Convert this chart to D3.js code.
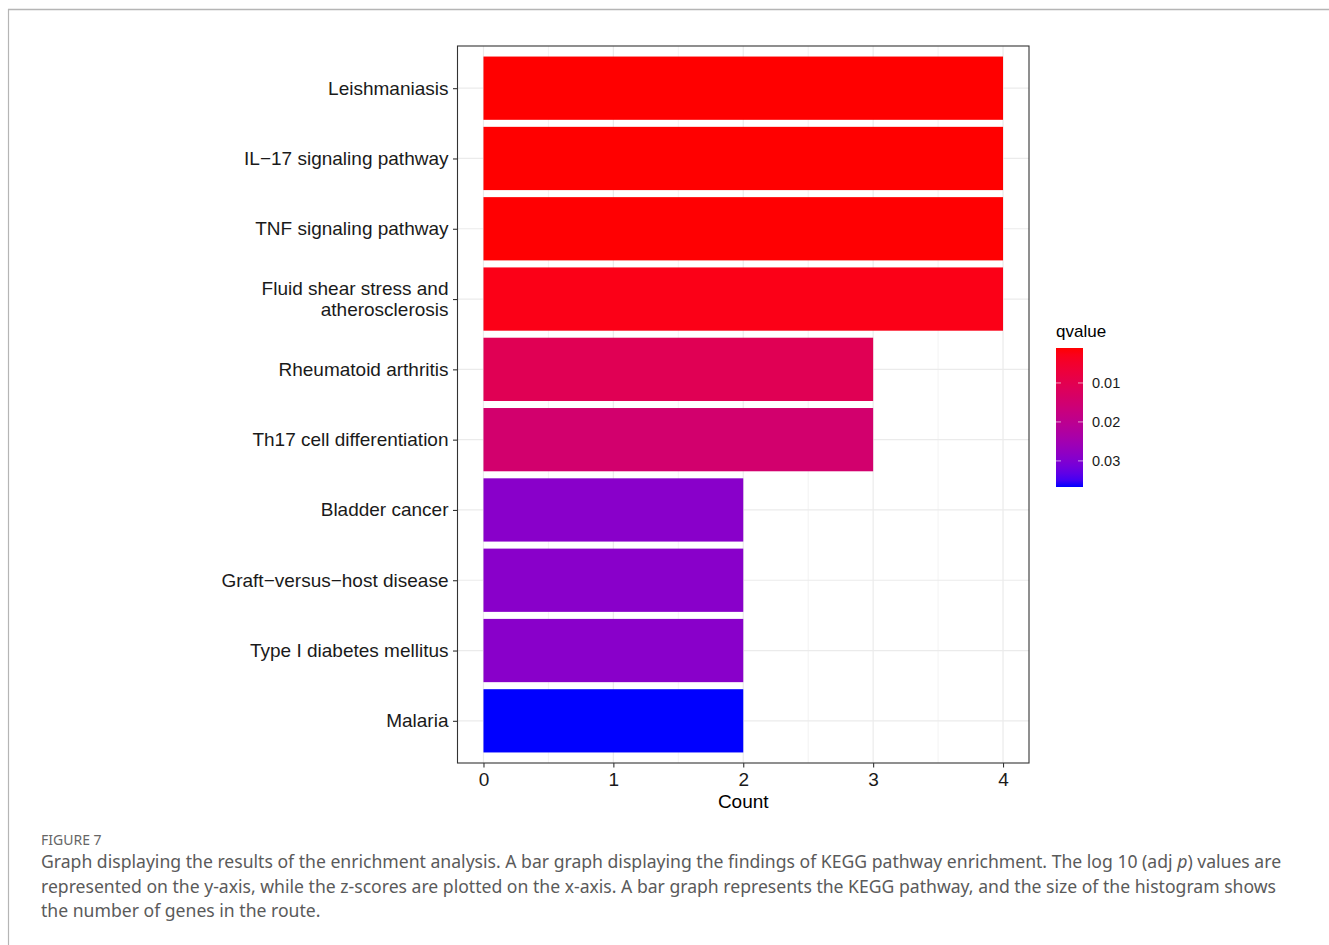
<!DOCTYPE html>
<html><head><meta charset="utf-8">
<script src="https://cdn.jsdelivr.net/npm/d3@7"></script>
<style>
body{margin:0;background:#fff;}
svg{display:block;}
</style></head>
<body>
<svg id="c" width="1329" height="945"></svg>
<script>
const categories = ["Leishmaniasis","IL\u221217 signaling pathway","TNF signaling pathway","Fluid shear stress and\natherosclerosis","Rheumatoid arthritis","Th17 cell differentiation","Bladder cancer","Graft\u2212versus\u2212host disease","Type I diabetes mellitus","Malaria"];
const counts = [4,4,4,4,3,3,2,2,2,2];
const qvalues = [0.00103,0.00105,0.00112,0.0025,0.0107,0.0146,0.0289,0.0289,0.0289,0.0367];
const xTicks = [0,1,2,3,4];
const legendTicks = [0.01,0.02,0.03];
const captionLines = [
 "Graph displaying the results of the enrichment analysis. A bar graph displaying the findings of KEGG pathway enrichment. The log 10 (adj |p|) values are",
 "represented on the y-axis, while the z-scores are plotted on the x-axis. A bar graph represents the KEGG pathway, and the size of the histogram shows",
 "the number of genes in the route."
];

const svg = d3.select("#c");
const F = "'Liberation Sans', Arial, sans-serif";

// frame
svg.append("line").attr("x1",8).attr("x2",1329).attr("y1",9.5).attr("y2",9.5).attr("stroke","#b5b5b5").attr("stroke-width",1.5);
svg.append("line").attr("x1",8.5).attr("x2",8.5).attr("y1",9).attr("y2",945).attr("stroke","#b5b5b5").attr("stroke-width",1.2);

const L=457.5, R=1029, T=46, B=763;
const x = d3.scaleLinear().domain([-0.2,4.2]).range([L,R]);
const y = d3.scalePoint().domain(categories).range([T,B]).padding(0.6);
const step = y.step();
const qMin = d3.min(qvalues), qMax = d3.max(qvalues);
const color = d3.scaleLinear().domain([qMin,qMax]).range(["#ff0000","#0000ff"]).interpolate(d3.interpolateLab);

const g = svg.append("g");
// minor grid
d3.range(-0.5,4.5,1).forEach(v=>{
  if(x(v)>L && x(v)<R) g.append("line").attr("x1",x(v)).attr("x2",x(v)).attr("y1",T).attr("y2",B).attr("stroke","#ebebeb").attr("stroke-width",0.6);
});
xTicks.forEach(v=>{
  g.append("line").attr("x1",x(v)).attr("x2",x(v)).attr("y1",T).attr("y2",B).attr("stroke","#ebebeb").attr("stroke-width",1.2);
});
categories.forEach(c=>{
  g.append("line").attr("x1",L).attr("x2",R).attr("y1",y(c)).attr("y2",y(c)).attr("stroke","#ebebeb").attr("stroke-width",1.2);
});
// bars
g.selectAll("rect.bar").data(categories).enter().append("rect")
  .attr("x",x(0)).attr("y",(d)=>y(d)-step*0.45).attr("height",step*0.9)
  .attr("width",(d,i)=>x(counts[i])-x(0)).attr("fill",(d,i)=>color(qvalues[i]));
// panel border
svg.append("rect").attr("x",L).attr("y",T).attr("width",R-L).attr("height",B-T).attr("fill","none").attr("stroke","#333").attr("stroke-width",1.1);

// x axis
const xa = svg.append("g").attr("transform",`translate(0,${B})`).call(d3.axisBottom(x).tickValues(xTicks).tickSize(4.5).tickPadding(5).tickFormat(d3.format("d")));
xa.select(".domain").remove();
xa.selectAll("line").attr("stroke","#333").attr("stroke-width",1.1);
xa.selectAll("text").attr("font-family",F).attr("font-size",19).attr("fill","#1a1a1a");
svg.append("text").attr("x",x(2)).attr("y",808).attr("text-anchor","middle").attr("font-family",F).attr("font-size",19).attr("fill","#000").text("Count");

// y axis
const ya = svg.append("g").attr("transform",`translate(${L},0)`).call(d3.axisLeft(y).tickSize(4.5).tickFormat(""));
ya.select(".domain").remove();
ya.selectAll("line").attr("stroke","#333").attr("stroke-width",1.1);
categories.forEach(c=>{
  const lines = c.split("\n");
  const t = svg.append("text").attr("text-anchor","end").attr("font-family",F).attr("font-size",19).attr("fill","#1a1a1a");
  const lh = 21;
  const y0 = y(c) - (lines.length-1)*lh/2 + 6.5;
  lines.forEach((ln,j)=>t.append("tspan").attr("x",L-9).attr("y",y0+j*lh).text(ln));
});

// legend
const lx=1056, ly=348, lw=27, lh2=139;
const ls = d3.scaleLinear().domain([qMin,qMax]).range([ly,ly+lh2]);
const defs = svg.append("defs");
const grad = defs.append("linearGradient").attr("id","gr").attr("x1",0).attr("x2",0).attr("y1",0).attr("y2",1);
d3.range(0,1.0001,0.05).forEach(t=>grad.append("stop").attr("offset",t).attr("stop-color",color(qMin+t*(qMax-qMin))));
svg.append("rect").attr("x",lx).attr("y",ly).attr("width",lw).attr("height",lh2).attr("fill","url(#gr)");
legendTicks.forEach(v=>{
  svg.append("line").attr("x1",lx).attr("x2",lx+5).attr("y1",ls(v)).attr("y2",ls(v)).attr("stroke","#fff").attr("stroke-width",1).attr("opacity",0.6);
  svg.append("line").attr("x1",lx+lw-5).attr("x2",lx+lw).attr("y1",ls(v)).attr("y2",ls(v)).attr("stroke","#fff").attr("stroke-width",1).attr("opacity",0.6);
  svg.append("text").attr("x",1092).attr("y",ls(v)+5).attr("font-family",F).attr("font-size",14.5).attr("fill","#1a1a1a").text(d3.format(".2f")(v));
});
svg.append("text").attr("x",1056).attr("y",337).attr("font-family",F).attr("font-size",17).attr("fill","#000").text("qvalue");

// caption
const CF = "'Noto Sans','Open Sans',sans-serif";
svg.append("text").attr("x",41).attr("y",845).attr("font-family",CF).attr("font-size",14).attr("fill","#666").text("FIGURE 7");
captionLines.forEach((ln,i)=>{
  const t = svg.append("text").attr("x",41).attr("y",868+i*24.5).attr("font-family",CF).attr("font-size",17.6).attr("fill","#5a5a5a");
  ln.split("|").forEach((part,j)=>{
    const ts = t.append("tspan").text(part);
    if(j%2===1) ts.attr("font-style","italic");
  });
});
</script>
</body></html>
